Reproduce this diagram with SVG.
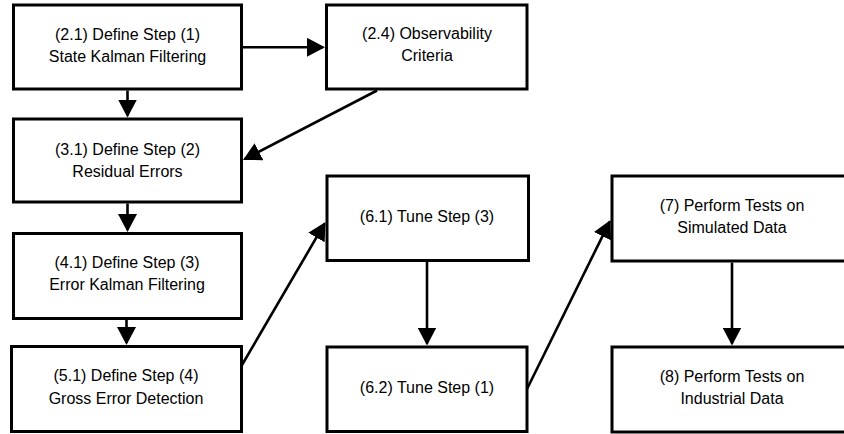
<svg xmlns="http://www.w3.org/2000/svg" width="844" height="434" viewBox="0 0 844 434">
<style>
.box{fill:#fff;stroke:#000;stroke-width:3}
.lbl{font-family:"Liberation Sans",Arial,sans-serif;font-size:16px;fill:#000;text-anchor:middle}
.edge{fill:none;stroke:#000;stroke-width:2.6}
</style>
<defs>
<marker id="ah" markerUnits="userSpaceOnUse" markerWidth="18" markerHeight="19" refX="16" refY="9.5" orient="auto">
<path d="M0,0 L18,9.5 L0,19 z" fill="#000"/>
</marker>
</defs>
<rect width="844" height="434" fill="#fff"/>
<g id="edges">
<line class="edge" x1="243" y1="47.3" x2="323" y2="47.3" marker-end="url(#ah)"/>
<line class="edge" x1="127.5" y1="90.5" x2="127.5" y2="115.5" marker-end="url(#ah)"/>
<line class="edge" x1="377" y1="90.5" x2="244.8" y2="159.1" marker-end="url(#ah)"/>
<line class="edge" x1="127.5" y1="203.5" x2="127.5" y2="230" marker-end="url(#ah)"/>
<line class="edge" x1="126.5" y1="320" x2="126.5" y2="343" marker-end="url(#ah)"/>
<line class="edge" x1="242" y1="365" x2="324.5" y2="223.7" marker-end="url(#ah)"/>
<line class="edge" x1="427" y1="262" x2="427" y2="343.5" marker-end="url(#ah)"/>
<line class="edge" x1="527" y1="389" x2="609.6" y2="221.8" marker-end="url(#ah)"/>
<line class="edge" x1="732" y1="262.5" x2="732" y2="343.5" marker-end="url(#ah)"/>
</g>
<g id="n21">
<rect class="box" x="13.5" y="5" width="228" height="84"/>
<text class="lbl" x="127.5" y="40">(2.1) Define Step (1)</text>
<text class="lbl" x="127.5" y="62">State Kalman Filtering</text>
</g>
<g id="n24">
<rect class="box" x="326.5" y="5" width="200.5" height="84"/>
<text class="lbl" x="427" y="39">(2.4) Observability</text>
<text class="lbl" x="427" y="61">Criteria</text>
</g>
<g id="n31">
<rect class="box" x="13.5" y="119" width="228" height="83"/>
<text class="lbl" x="127.5" y="155">(3.1) Define Step (2)</text>
<text class="lbl" x="127.5" y="177">Residual Errors</text>
</g>
<g id="n41">
<rect class="box" x="13.5" y="233.5" width="228" height="85"/>
<text class="lbl" x="127" y="268">(4.1) Define Step (3)</text>
<text class="lbl" x="127" y="290">Error Kalman Filtering</text>
</g>
<g id="n51">
<rect class="box" x="11.5" y="346.5" width="230" height="85"/>
<text class="lbl" x="126" y="381">(5.1) Define Step (4)</text>
<text class="lbl" x="126" y="403.5">Gross Error Detection</text>
</g>
<g id="n61">
<rect class="box" x="327" y="176" width="201.5" height="84.5"/>
<text class="lbl" x="427" y="222">(6.1) Tune Step (3)</text>
</g>
<g id="n62">
<rect class="box" x="327" y="347" width="200" height="84.5"/>
<text class="lbl" x="427" y="393">(6.2) Tune Step (1)</text>
</g>
<g id="n7">
<rect class="box" x="612" y="176" width="240" height="85"/>
<text class="lbl" x="732" y="211">(7) Perform Tests on</text>
<text class="lbl" x="732" y="233">Simulated Data</text>
</g>
<g id="n8">
<rect class="box" x="612" y="347" width="240" height="85"/>
<text class="lbl" x="732" y="382">(8) Perform Tests on</text>
<text class="lbl" x="732" y="404">Industrial Data</text>
</g>
</svg>
